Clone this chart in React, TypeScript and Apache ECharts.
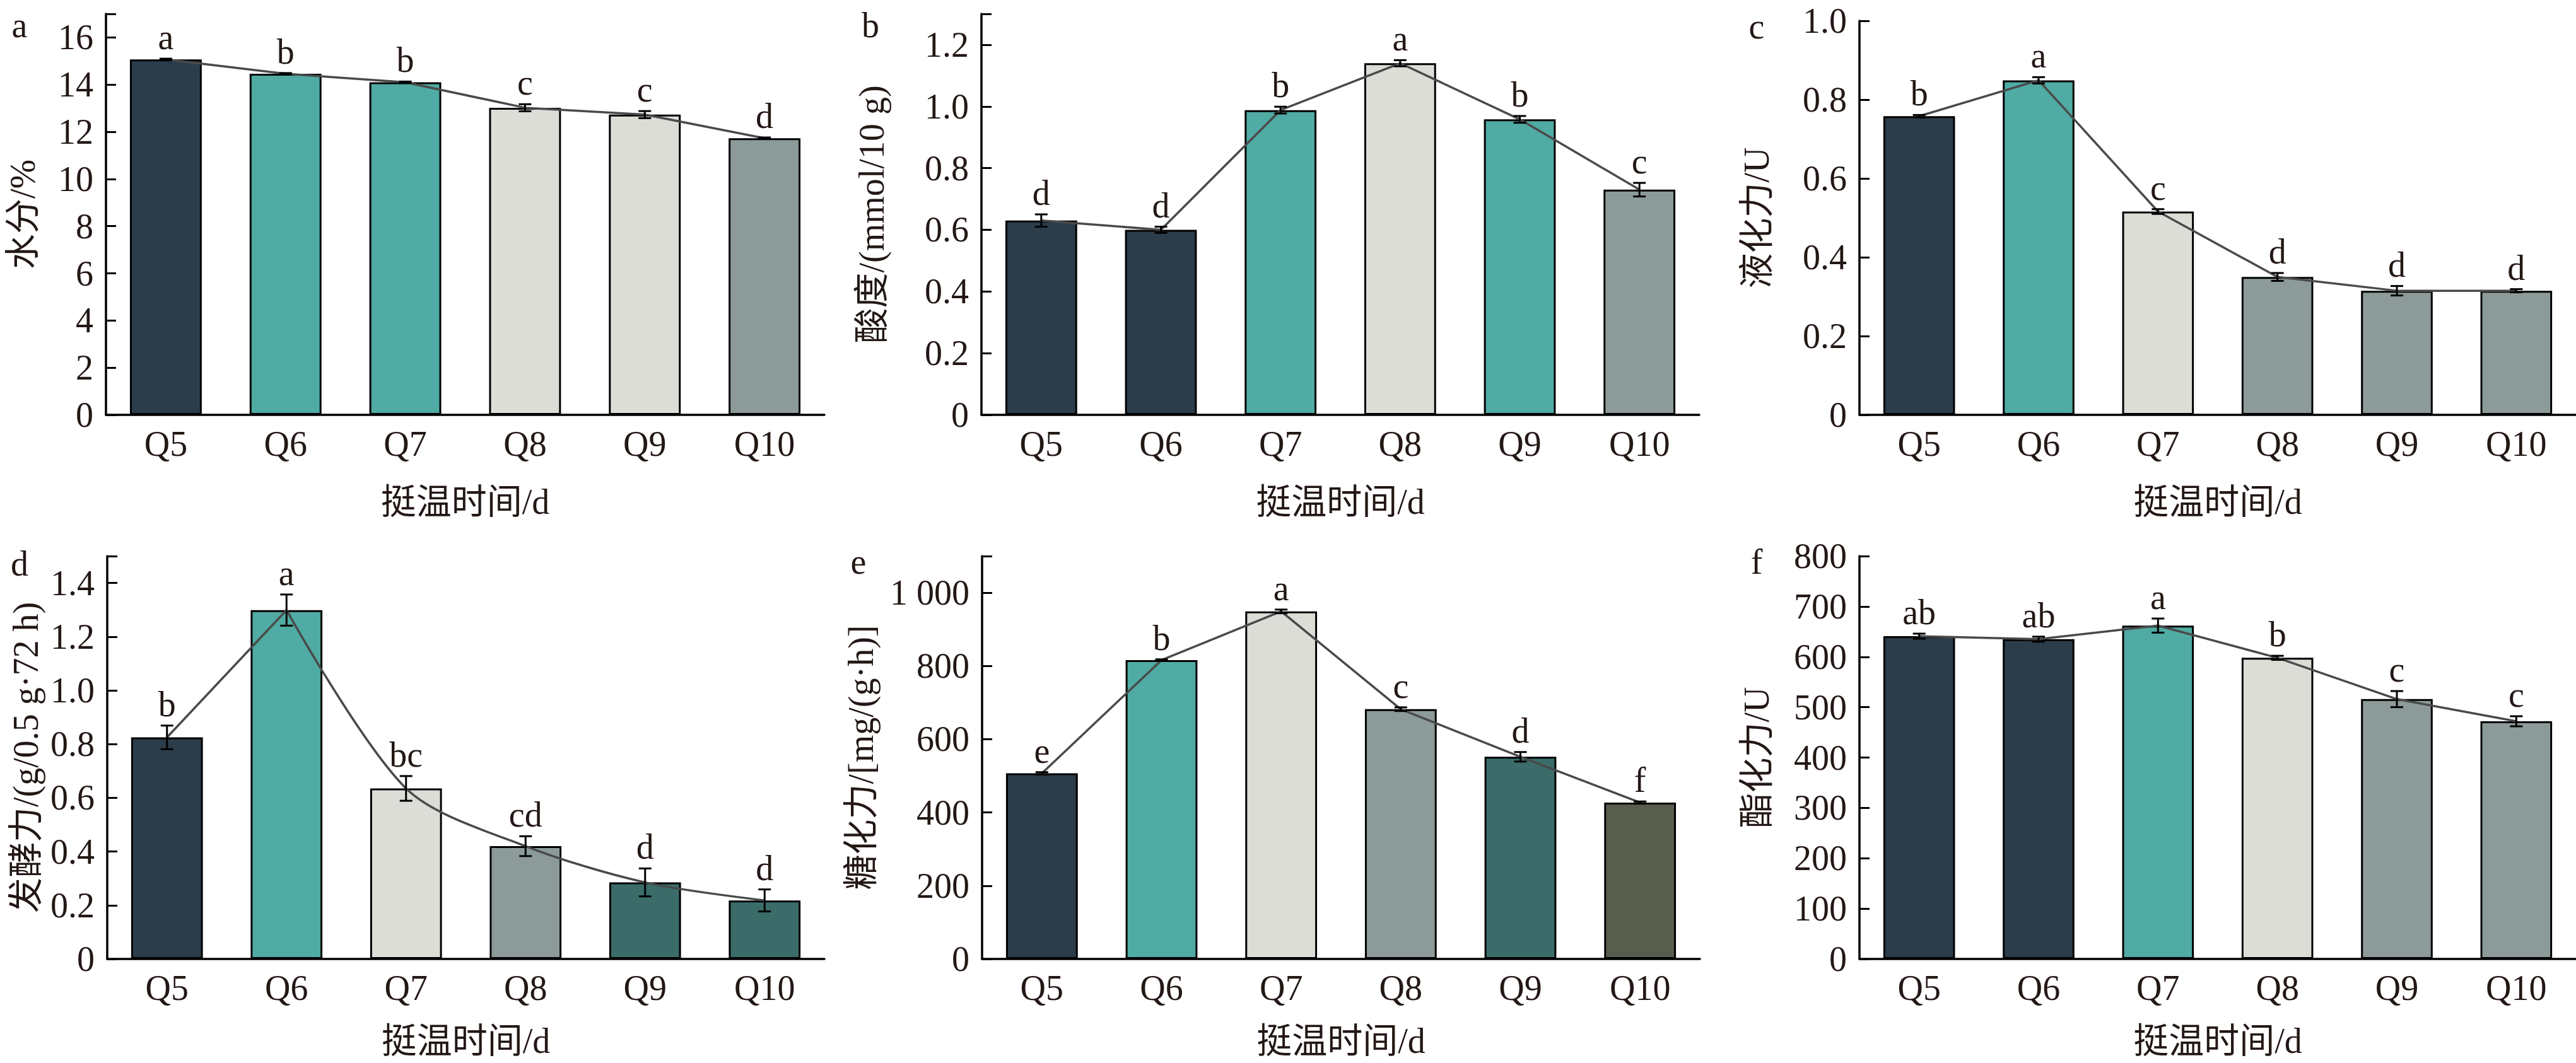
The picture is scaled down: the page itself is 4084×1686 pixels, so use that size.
import React, { useEffect, useRef } from "react";
import * as echarts from "echarts";

const categories = ["Q5", "Q6", "Q7", "Q8", "Q9", "Q10"];

const moistureMean = [15.07, 14.46, 14.1, 13.02, 12.73, 11.73];
const moistureErr = [0.03, 0.03, 0.03, 0.15, 0.15, 0.03];
const moistureSig = ["a", "b", "b", "c", "c", "d"];

const acidityMean = [0.63, 0.6, 0.988, 1.14, 0.958, 0.73];
const acidityErr = [0.02, 0.01, 0.011, 0.01, 0.011, 0.022];
const aciditySig = ["d", "d", "b", "a", "b", "c"];

const liquefyMean = [0.758, 0.849, 0.516, 0.35, 0.315, 0.315];
const liquefyErr = [0.003, 0.008, 0.006, 0.01, 0.012, 0.004];
const liquefySig = ["b", "a", "c", "d", "d", "d"];

const fermentMean = [0.825, 1.299, 0.635, 0.42, 0.285, 0.218];
const fermentErr = [0.044, 0.058, 0.046, 0.037, 0.052, 0.041];
const fermentSig = ["b", "a", "bc", "cd", "d", "d"];

const saccharMean = [507, 816, 949, 682, 552, 427];
const saccharErr = [3, 2, 5, 5, 13, 3];
const saccharSig = ["e", "b", "a", "c", "d", "f"];

const esterMean = [641, 635, 662, 598, 516, 472];
const esterErr = [5, 5, 14, 4, 16, 10];
const esterSig = ["ab", "ab", "a", "b", "c", "c"];

const NAVY = "#2b3d4b";
const TEAL = "#4faba3";
const LIGHT = "#dcddd7";
const GRAY = "#8c9b9a";
const DTEAL = "#3b6c6a";
const OLIVE = "#585e4e";

const panelColors = [
  [NAVY, TEAL, TEAL, LIGHT, LIGHT, GRAY],
  [NAVY, NAVY, TEAL, LIGHT, TEAL, GRAY],
  [NAVY, TEAL, LIGHT, GRAY, GRAY, GRAY],
  [NAVY, TEAL, LIGHT, GRAY, DTEAL, DTEAL],
  [NAVY, TEAL, LIGHT, GRAY, DTEAL, OLIVE],
  [NAVY, NAVY, TEAL, LIGHT, GRAY, GRAY],
];

const yTitles = [
  "水分/%",
  "酸度/(mmol/10 g)",
  "液化力/U",
  "发酵力/(g/0.5 g·72 h)",
  "糖化力/[mg/(g·h)]",
  "酯化力/U",
];
const xTitle = "挺温时间/d";
const panelLetters = ["a", "b", "c", "d", "e", "f"];

const yMax = [17, 1.3, 1.0, 1.5, 1100, 800];
const yInterval = [2, 0.2, 0.2, 0.2, 200, 100];
const yLastTick = [16, 1.2, 1.0, 1.4, 1000, 800];
const yDecimals = [0, 1, 1, 1, 0, 0];

const FONT = "'Liberation Serif', 'Times New Roman', 'Noto Sans CJK SC', serif";
const INK = "#231815";
const FS = 56;

const grids = [
  { left: 168, top: 22, width: 1139, height: 636 },
  { left: 1556, top: 22, width: 1138, height: 636 },
  { left: 2948, top: 33, width: 1150, height: 625 },
  { left: 170, top: 882, width: 1137, height: 639 },
  { left: 1557, top: 882, width: 1138, height: 639 },
  { left: 2948, top: 882, width: 1150, height: 639 },
];
const yNameGap = [104, 146, 135, 101, 164, 135];
const letterPos = [
  [31, 40],
  [1380, 40],
  [2785, 42],
  [31, 894],
  [1361, 891],
  [2785, 891],
];

const means = [moistureMean, acidityMean, liquefyMean, fermentMean, saccharMean, esterMean];
const errs = [moistureErr, acidityErr, liquefyErr, fermentErr, saccharErr, esterErr];
const sigs = [moistureSig, aciditySig, liquefySig, fermentSig, saccharSig, esterSig];

function fmtTick(i: number, v: number): string {
  const k = Math.round(v / yInterval[i]);
  if (Math.abs(k * yInterval[i] - v) > 1e-6 || v > yLastTick[i] + 1e-6) return "";
  if (v === 0) return "0";
  if (yDecimals[i] > 0) return v.toFixed(yDecimals[i]);
  if (v >= 1000) {
    const s = String(Math.round(v));
    return s.slice(0, s.length - 3) + " " + s.slice(s.length - 3);
  }
  return String(Math.round(v));
}

function buildOption() {
  const xAxis: any[] = [];
  const yAxis: any[] = [];
  const series: any[] = [];
  const graphic: any[] = [];
  for (let i = 0; i < 6; i++) {
    xAxis.push({
      type: "category",
      gridIndex: i,
      data: categories,
      boundaryGap: true,
      name: xTitle,
      nameLocation: "middle",
      nameGap: i < 3 ? 110 : 102,
      nameTextStyle: { fontSize: FS, fontFamily: FONT, color: INK },
      axisLine: { lineStyle: { color: "#000", width: 3.5 } },
      axisTick: { inside: true, alignWithLabel: true, length: 12, lineStyle: { color: "#000", width: 3 } },
      axisLabel: { fontSize: FS, fontFamily: FONT, color: INK, margin: 18 },
      splitLine: { show: false },
    });
    yAxis.push({
      type: "value",
      gridIndex: i,
      min: 0,
      max: yMax[i],
      interval: yInterval[i],
      name: yTitles[i],
      nameLocation: "middle",
      nameGap: yNameGap[i],
      nameTextStyle: { fontSize: FS, fontFamily: FONT, color: INK },
      axisLine: { show: true, lineStyle: { color: "#000", width: 3.5 } },
      axisTick: { show: true, inside: true, length: 16, lineStyle: { color: "#000", width: 3 } },
      axisLabel: {
        fontSize: FS,
        fontFamily: FONT,
        color: INK,
        margin: 20,
        formatter: (v: number) => fmtTick(i, v),
      },
      splitLine: { show: false },
    });
    series.push({
      type: "bar",
      xAxisIndex: i,
      yAxisIndex: i,
      barWidth: "60%",
      z: 2,
      data: means[i].map((v, j) => ({
        value: v,
        itemStyle: { color: panelColors[i][j], borderColor: "#000", borderWidth: 3 },
      })),
    });
    if (i === 3) {
      series.push({
        type: "line",
        xAxisIndex: i,
        yAxisIndex: i,
        z: 3,
        showSymbol: false,
        symbol: "none",
        lineStyle: { color: "#4a4a4a", width: 3.5 },
        data: means[i].map((v, j) => (j <= 1 ? v : null)),
      });
      series.push({
        type: "line",
        xAxisIndex: i,
        yAxisIndex: i,
        z: 3,
        showSymbol: false,
        symbol: "none",
        smooth: 0.3,
        lineStyle: { color: "#4a4a4a", width: 3.5 },
        data: means[i].map((v, j) => (j >= 1 ? v : null)),
      });
    } else {
      series.push({
        type: "line",
        xAxisIndex: i,
        yAxisIndex: i,
        z: 3,
        showSymbol: false,
        symbol: "none",
        lineStyle: { color: "#4a4a4a", width: 3.5 },
        data: means[i],
      });
    }
    const sig = sigs[i];
    series.push({
      type: "custom",
      xAxisIndex: i,
      yAxisIndex: i,
      z: 4,
      data: means[i].map((v, j) => [j, v - errs[i][j], v + errs[i][j]]),
      renderItem: (params: any, api: any) => {
        const idx = api.value(0);
        const lo = api.coord([idx, api.value(1)]);
        const hi = api.coord([idx, api.value(2)]);
        const x = lo[0];
        const hw = 10;
        const ls = { stroke: "#000", lineWidth: 3 };
        return {
          type: "group",
          children: [
            { type: "line", shape: { x1: x, y1: lo[1], x2: x, y2: hi[1] }, style: ls },
            { type: "line", shape: { x1: x - hw, y1: lo[1], x2: x + hw, y2: lo[1] }, style: ls },
            { type: "line", shape: { x1: x - hw, y1: hi[1], x2: x + hw, y2: hi[1] }, style: ls },
            {
              type: "text",
              x: x,
              y: hi[1] - 6,
              style: {
                text: sig[params.dataIndex],
                fontSize: FS,
                fontFamily: FONT,
                fill: INK,
                align: "center",
                verticalAlign: "bottom",
              },
            },
          ],
        };
      },
    });
    graphic.push({
      type: "text",
      x: letterPos[i][0],
      y: letterPos[i][1],
      style: {
        text: panelLetters[i],
        fontSize: FS,
        fontFamily: FONT,
        fill: INK,
        align: "center",
        verticalAlign: "middle",
      },
    });
  }
  return {
    animation: false,
    backgroundColor: "#ffffff",
    grid: grids.map((g) => ({ ...g, containLabel: false })),
    xAxis,
    yAxis,
    series,
    graphic,
  };
}

export default function App() {
  const ref = useRef<HTMLDivElement>(null);
  useEffect(() => {
    document.body.style.margin = "0";
    document.body.style.overflow = "hidden";
    if (!ref.current) return;
    const chart = echarts.init(ref.current, undefined, { renderer: "svg" });
    chart.setOption(buildOption() as any);
    return () => chart.dispose();
  }, []);
  return <div ref={ref} style={{ width: 4084, height: 1686, background: "#fff" }} />;
}
